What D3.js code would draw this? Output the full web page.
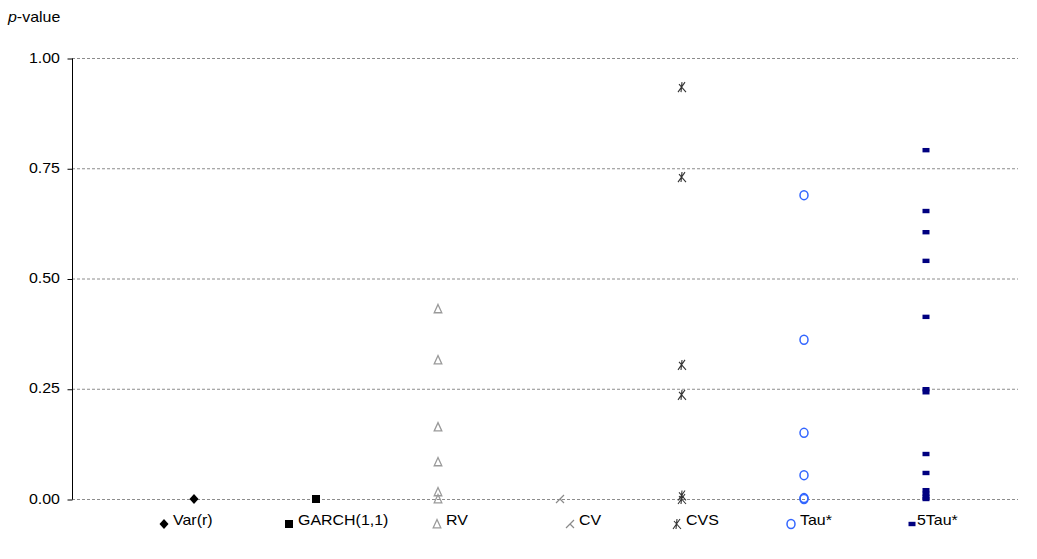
<!DOCTYPE html>
<html><head><meta charset="utf-8">
<script src="https://cdn.jsdelivr.net/npm/d3@7"></script>
<style>body{margin:0;background:#fff}svg{display:block}text{font-family:"Liberation Sans",Arial,sans-serif;fill:#000}</style>
</head><body>
<script>
const categories = ["Var(r)", "GARCH(1,1)", "RV", "CV", "CVS", "Tau*", "5Tau*"];
const varR = [0];
const garch = [0];
const rv = [0.431, 0.315, 0.163, 0.084, 0.016, 0.0];
const cv = [0];
const cvs = [0.934, 0.730, 0.304, 0.236, 0.008, 0.0];
const tau = [0.689, 0.361, 0.150, 0.054, 0.002, 0.0];
const tau5 = [0.791, 0.653, 0.605, 0.540, 0.413, 0.249, 0.242, 0.102, 0.059, 0.020, 0.012, 0.005, 0.0];
const yTicks = [0, 0.25, 0.5, 0.75, 1.0];
const series = [varR, garch, rv, cv, cvs, tau, tau5];

const W = 1037, H = 559;
const svg = d3.select("body").append("svg").attr("width", W).attr("height", H);
const x = d3.scaleLinear().domain([0, 7.75]).range([72, 1018]);
const y = d3.scaleLinear().domain([0, 1]).range([499, 58]);
const SX = 1.14;

function txt(g, tx, ty, s, anchor) {
  const gg = g.append("g").attr("transform", `translate(${tx},${ty}) scale(${SX},1)`);
  const t = gg.append("text").attr("font-size", 14).attr("text-anchor", anchor || "start").attr("dominant-baseline", "middle");
  return t.text(s), t;
}

// gridlines
svg.append("g").selectAll("line").data(yTicks).join("line")
  .attr("x1", x(0)).attr("x2", x(7.75)).attr("y1", d => y(d) + 0.5).attr("y2", d => y(d) + 0.5)
  .attr("stroke", "#8c8c8c").attr("stroke-width", 1).attr("stroke-dasharray", "3,2");

// y axis
const ya = svg.append("g").attr("transform", `translate(${x(0) + 0.5},0.5)`)
  .call(d3.axisLeft(y).tickValues(yTicks).tickSize(5).tickFormat(""));
ya.select(".domain").attr("stroke", "#000").attr("d", `M0,${y(1)}V${y(0)}`);
ya.selectAll(".tick line").attr("stroke", "#000");
yTicks.forEach(v => txt(svg, 60, y(v) + 1, d3.format(".2f")(v), "end"));

// y title
{
  const gg = svg.append("g").attr("transform", `translate(8,18) scale(${SX},1)`);
  const t = gg.append("text").attr("font-size", 14).attr("dominant-baseline", "middle");
  t.append("tspan").attr("font-style", "italic").text("p");
  t.append("tspan").text("-value");
}

// marker shapes
function marker(g, i, cx, cy) {
  const m = g.append("g").attr("transform", `translate(${cx},${cy})`);
  switch (i) {
    case 0: m.append("path").attr("d", "M0,-5L4.5,0L0,5L-4.5,0Z").attr("fill", "#000"); break;
    case 1: m.append("rect").attr("x", -4).attr("y", -4).attr("width", 8).attr("height", 8).attr("fill", "#000"); break;
    case 2: m.append("path").attr("d", "M0,-4.5L3.8,3.8L-3.8,3.8Z").attr("fill", "none").attr("stroke", "#9a9a9a").attr("stroke-width", 1.3); break;
    case 3: m.append("path").attr("d", "M-4,4L4,-4M0,0L4,4").attr("fill", "none").attr("stroke", "#8a8a8a").attr("stroke-width", 1.2); break;
    case 4: m.append("path").attr("d", "M-4,5L3,-5M-3,-3L4,5M0,-5L-1,5").attr("fill", "none").attr("stroke", "#333").attr("stroke-width", 1.1); break;
    case 5: m.append("ellipse").attr("rx", 4).attr("ry", 4.5).attr("fill", "none").attr("stroke", "#3366ff").attr("stroke-width", 1.5); break;
    case 6: m.append("rect").attr("x", -3.5).attr("y", -2.2).attr("width", 7).attr("height", 4.4).attr("fill", "#000080"); break;
  }
}

// points
const pts = svg.append("g");
series.forEach((vals, i) => vals.forEach(v => marker(pts, i, Math.round(x(i + 1)), y(v))));

// legend
const legendX = [164, 289, 437, 570, 677, 791, 912];
const lg = svg.append("g");
categories.forEach((c, i) => {
  marker(lg, i, legendX[i], 524);
  txt(lg, legendX[i] + (i === 6 ? 5 : 9), 521, c, "start");
});
</script>
</body></html>
